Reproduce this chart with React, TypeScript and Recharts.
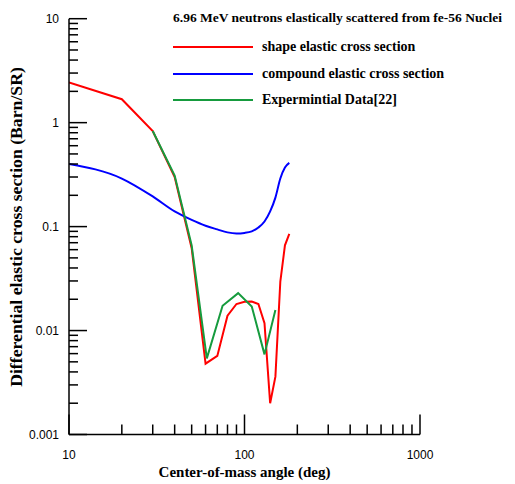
import React from 'react';
import { LineChart, Line, XAxis, YAxis } from 'recharts';

// angles (deg) for the calculated curves
const angles = [10, 20, 30, 40, 50, 60, 70, 80, 90, 100, 110, 120, 130, 140, 150, 160, 170, 180];
const shapeElastic = [2.44, 1.68, 0.83, 0.3, 0.062, 0.0048, 0.0057, 0.0139, 0.018, 0.0189, 0.019, 0.018, 0.0118, 0.002, 0.0036, 0.0296, 0.066, 0.085];
const compoundElastic = [0.4, 0.29, 0.195, 0.14, 0.116, 0.102, 0.094, 0.088, 0.086, 0.087, 0.09, 0.098, 0.112, 0.14, 0.19, 0.29, 0.37, 0.41];

// experimental points
const expAngles = [30, 40, 50, 61, 75, 92, 110, 130, 150];
const expValues = [0.83, 0.31, 0.066, 0.0054, 0.0173, 0.0229, 0.017, 0.0059, 0.0158];

const xMajor = [10, 100, 1000];
const yMajor = [0.001, 0.01, 0.1, 1, 10];

const minorTicks = (majors: number[]) => {
  const out: number[] = [];
  majors.slice(0, -1).forEach(m => {
    for (let k = 1; k <= 9; k++) out.push(+(m * k).toPrecision(3));
  });
  out.push(majors[majors.length - 1]);
  return out;
};

const xTicks = minorTicks(xMajor);
const yTicks = minorTicks(yMajor);

const calcData = angles.map((a, i) => ({ angle: a, shape: shapeElastic[i], compound: compoundElastic[i] }));
const expData = expAngles.map((a, i) => ({ angle: a, exp: expValues[i] }));

const isMajor = (v: number, majors: number[]) => majors.some(m => Math.abs(m - v) / m < 1e-6);

const XTick = (props: any) => {
  const { x, y, payload } = props;
  const major = isMajor(payload.value, xMajor);
  return (
    <g>
      <line x1={x} x2={x} y1={y} y2={y - (major ? 20 : 10)} stroke="#000" strokeWidth={1.5} />
      {major && (
        <text x={x} y={y + 24} textAnchor="middle" fontFamily="Arial, 'Liberation Sans'" fontSize={12} fill="#000">
          {payload.value}
        </text>
      )}
    </g>
  );
};

const YTick = (props: any) => {
  const { x, y, payload } = props;
  const major = isMajor(payload.value, yMajor);
  return (
    <g>
      <line x1={x} x2={x + (major ? 18 : 9)} y1={y} y2={y} stroke="#000" strokeWidth={1.5} />
      {major && (
        <text x={x - 10} y={y + 4} textAnchor="end" fontFamily="Arial, 'Liberation Sans'" fontSize={12} fill="#000">
          {payload.value}
        </text>
      )}
    </g>
  );
};

const legendItems = [
  { label: 'shape elastic cross section', color: '#ff0000' },
  { label: 'compound elastic cross section', color: '#0000ff' },
  { label: 'Expermintial Data[22]', color: '#169b3e' },
];

const serif = "'Liberation Serif', 'Times New Roman', serif";

export default function App() {
  return (
    <div style={{ position: 'relative', width: 500, height: 476 }}>
      <LineChart width={500} height={476} margin={{ top: 10.7, right: 88, bottom: 48.5, left: 60 }}>
        <XAxis
          dataKey="angle"
          type="number"
          scale="log"
          domain={[10, 1000]}
          ticks={xTicks}
          interval={0}
          height={1}
          tickSize={0}
          tickMargin={0}
          tick={<XTick />}
          stroke="#000"
          strokeWidth={1.5}
          allowDataOverflow
        />
        <YAxis
          type="number"
          scale="log"
          domain={[0.001, 10]}
          ticks={yTicks}
          interval={0}
          width={1}
          tickSize={0}
          tickMargin={0}
          tick={<YTick />}
          stroke="#000"
          strokeWidth={1.5}
          allowDataOverflow
        />
        <Line data={calcData} dataKey="shape" stroke="#ff0000" strokeWidth={2} dot={false} isAnimationActive={false} />
        <Line data={calcData} dataKey="compound" stroke="#0000ff" strokeWidth={2} dot={false} isAnimationActive={false} type="monotone" />
        <Line data={expData} dataKey="exp" stroke="#169b3e" strokeWidth={2} dot={false} isAnimationActive={false} />
      </LineChart>
      <div style={{ position: 'absolute', left: 165, top: 2, fontFamily: serif, fontWeight: 'bold', fontSize: 13.5, color: '#000' }}>
        <div style={{ whiteSpace: 'nowrap', height: 24 }}>6.96 MeV neutrons elastically scattered from fe-56 Nuclei</div>
        {legendItems.map(it => (
          <div key={it.label} style={{ display: 'flex', alignItems: 'center', height: 26.6, whiteSpace: 'nowrap', fontSize: 14 }}>
            <span style={{ display: 'inline-block', width: 80, height: 2, background: it.color, marginRight: 9 }} />
            {it.label}
          </div>
        ))}
      </div>
      <div
        style={{
          position: 'absolute', left: 8, top: 218.5, transform: 'translate(-50%, -50%) rotate(-90deg)',
          fontFamily: serif, fontWeight: 'bold', fontSize: 17.7, whiteSpace: 'nowrap',
        }}
      >
        Differential elastic cross section (Barn/SR)
      </div>
      <div
        style={{
          position: 'absolute', left: 236.5, top: 463.5, transform: 'translate(-50%, -50%)',
          fontFamily: serif, fontWeight: 'bold', fontSize: 15, whiteSpace: 'nowrap',
        }}
      >
        Center-of-mass angle (deg)
      </div>
    </div>
  );
}
